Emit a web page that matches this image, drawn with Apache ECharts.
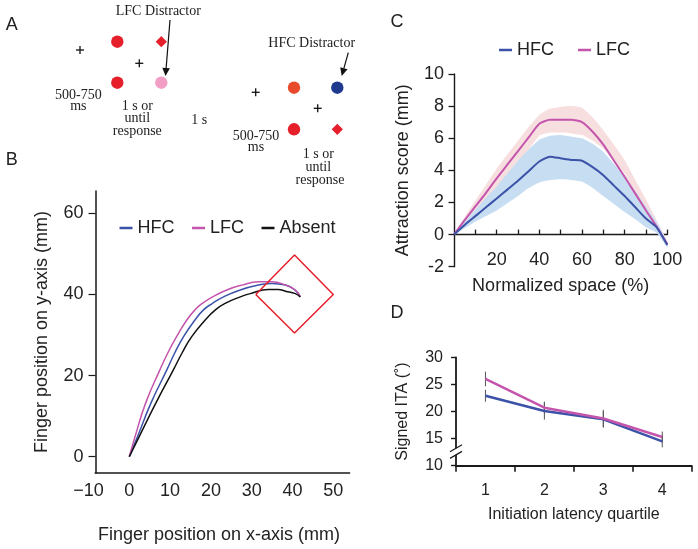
<!DOCTYPE html>
<html><head><meta charset="utf-8">
<script src="https://cdn.jsdelivr.net/npm/echarts@6/dist/echarts.min.js"></script>
<style>html,body{margin:0;padding:0;background:#fff}#c{width:698px;height:549px}</style>
</head><body><div id="c"></div>
<script>
// ---------- Panel B: finger trajectories ----------
const trajLfcX = [0, 1.4, 4.0, 7.5, 9.4, 11.6, 14.1, 16.1, 17.9, 20.4, 23.9, 27.6, 31.7, 35, 38.3, 40.7, 41.9];
const trajLfcY = [0, 4.9, 13.2, 21.4, 25.5, 29.6, 33.7, 36.2, 37.8, 39.4, 41.1, 42.3, 43.1, 43.1, 42.3, 41.1, 39.4];
const trajHfcX = [0, 2.0, 5.3, 9.2, 11.1, 13.3, 16.1, 18.2, 20.4, 23.1, 27.2, 31.7, 35, 38.3, 40.7, 41.9];
const trajHfcY = [0, 4.9, 13.2, 21.4, 25.5, 29.6, 33.7, 36.2, 37.8, 39.4, 41.1, 42.3, 42.7, 42.3, 41.0, 39.4];
const trajAbsX = [0, 2.4, 6.5, 10.8, 12.9, 15.3, 18.6, 21.1, 23.5, 27.2, 30, 34, 36.5, 38.3, 40.7, 41.9];
const trajAbsY = [0, 4.9, 13.2, 21.4, 25.5, 29.6, 33.7, 36.2, 37.8, 39.4, 40.3, 41.2, 41.2, 40.8, 40.2, 39.4];
const targetX = [31, 40.5, 50, 40.5, 31];
const targetY = [40, 49.7, 40, 30.5, 40];
const bXLabels = [-10, 0, 10, 20, 30, 40, 50];
const bYLabels = [0, 20, 40, 60];

// ---------- Panel C: attraction score ----------
const spaceX   = [0, 5, 10, 15, 20, 25, 30, 35, 40, 45, 50, 55, 60, 65, 70, 75, 80, 85, 90, 95, 100];
const lfcMean  = [0, 0.9, 1.75, 2.6, 3.5, 4.35, 5.2, 6.05, 6.9, 7.15, 7.15, 7.15, 7.0, 6.4, 5.6, 4.6, 3.6, 2.55, 1.5, 0.5, -0.6];
const lfcUpper = [0, 1.1, 2.1, 3.1, 4.1, 5.0, 5.85, 6.7, 7.45, 7.85, 7.95, 8.0, 7.9, 7.3, 6.5, 5.6, 4.65, 3.4, 2.2, 0.9, -0.4];
const lfcLower = [0, 0.7, 1.4, 2.1, 2.9, 3.7, 4.55, 5.3, 6.15, 6.35, 6.35, 6.3, 6.2, 5.85, 5.35, 4.6, 3.8, 2.5, 1.1, 0.2, -0.8];
const hfcMean  = [0, 0.6, 1.15, 1.7, 2.25, 2.8, 3.35, 3.95, 4.55, 4.85, 4.75, 4.65, 4.6, 4.2, 3.7, 3.05, 2.4, 1.7, 1.0, 0.45, -0.65];
const hfcUpper = [0, 0.8, 1.55, 2.3, 3.0, 3.8, 4.6, 5.3, 5.9, 6.15, 6.2, 6.1, 6.0, 5.65, 5.15, 4.4, 3.6, 2.7, 1.75, 0.8, -0.5];
const hfcLower = [0, 0.4, 0.8, 1.15, 1.5, 1.95, 2.4, 2.9, 3.25, 3.4, 3.45, 3.4, 3.3, 2.9, 2.4, 1.9, 1.4, 0.95, 0.45, 0.1, -0.8];
const cXLabels = [20, 40, 60, 80, 100];
const cXTicks  = [10, 20, 30, 40, 50, 60, 70, 80, 90, 100];

// ---------- Panel D: signed ITA ----------
const quartiles = ['1', '2', '3', '4'];
const itaLfc    = [26.0, 20.7, 18.7, 15.3];
const itaLfcErr = [1.35, 1.1, 1.6, 1.0];
const itaHfc    = [22.9, 20.1, 18.55, 14.5];
const itaHfcErr = [1.1, 1.6, 1.5, 1.1];

const BLUE = '#3b52a8', MAG = '#c455ad';
const SANS = '"Liberation Sans", Arial, sans-serif';
const SERIF = '"Liberation Serif", "DejaVu Serif", serif';
const INK = '#1a1a1a';

function zip(a, b) { return a.map((v, i) => [v, b[i]]); }

// ---------- Panel A diagram (graphic) ----------
function circ(id, cx, cy, color) { return {id, type: 'circle', shape: {cx, cy, r: 6.2}, style: {fill: color}}; }
function dia(id, cx, cy, color) { const s = 5.6; return {id, type: 'polygon', shape: {points: [[cx, cy - s], [cx + s, cy], [cx, cy + s], [cx - s, cy]]}, style: {fill: color}}; }
function plus(id, cx, cy) {
  return [
    {id: id + 'h', type: 'line', shape: {x1: cx - 4, y1: cy, x2: cx + 4, y2: cy}, style: {stroke: '#111', lineWidth: 1.3}},
    {id: id + 'v', type: 'line', shape: {x1: cx, y1: cy - 4, x2: cx, y2: cy + 4}, style: {stroke: '#111', lineWidth: 1.3}}
  ];
}
function stxt(id, x, y, s) {
  return {id, type: 'text', x, y, style: {text: s, font: '14px ' + SERIF, fill: '#222', align: 'center', verticalAlign: 'middle', textAlign: 'center', textVerticalAlign: 'middle'}};
}
function letter(id, x, y, s) {
  return {id, type: 'text', x, y, style: {text: s, font: '18px ' + SANS, fill: '#222', align: 'center', verticalAlign: 'middle', textAlign: 'center', textVerticalAlign: 'middle'}};
}
function arrow(id, x1, y1, x2, y2) {
  const dx = x2 - x1, dy = y2 - y1, L = Math.hypot(dx, dy), ux = dx / L, uy = dy / L;
  const bx = x2 - ux * 8, by = y2 - uy * 8, px = -uy * 3.8, py = ux * 3.8;
  return [
    {id: id + 'l', type: 'line', shape: {x1, y1, x2: bx, y2: by}, style: {stroke: '#111', lineWidth: 1.2}},
    {id: id + 'h', type: 'polygon', shape: {points: [[x2, y2], [bx + px, by + py], [bx - px, by - py]]}, style: {fill: '#111'}}
  ];
}
const RED = '#e5202b';
const graphicA = [].concat(
  [letter('lA', 11.7, 25, 'A'), letter('lB', 11.7, 160, 'B'), letter('lC', 397, 22, 'C'), letter('lD', 397, 313, 'D')],
  plus('p1', 80, 50), plus('p2', 139.3, 63.3), plus('p3', 255.7, 92.3), plus('p4', 317.7, 108.3),
  [circ('c1', 117.3, 41.7, RED), circ('c2', 117.3, 82.7, RED), circ('c3', 161.3, 82.7, '#f29dc3'),
   dia('d1', 161.3, 41.7, RED),
   circ('c4', 294, 87.7, '#ea4a2c'), circ('c5', 337.3, 87.7, '#1d3a8e'), circ('c6', 294, 129.3, RED),
   dia('d2', 337.3, 129.3, RED)],
  arrow('a1', 170, 20, 165.5, 76), arrow('a2', 348.3, 52.7, 341.7, 76),
  [stxt('t1', 158.3, 11, 'LFC Distractor'), stxt('t2', 311.7, 43.3, 'HFC Distractor'),
   stxt('t3', 78.3, 95, '500-750'), stxt('t4', 78.3, 106.5, 'ms'),
   stxt('t5', 137.3, 106, '1 s or'), stxt('t6', 137.3, 118.5, 'until'), stxt('t7', 137.3, 131.5, 'response'),
   stxt('t8', 199.3, 120.7, '1 s'),
   stxt('t9', 256, 136.7, '500-750'), stxt('t10', 256, 147.5, 'ms'),
   stxt('t11', 318.3, 154, '1 s or'), stxt('t12', 318.3, 167, 'until'), stxt('t13', 320, 180.5, 'response')]
);

function bandSeries(name, upper, lower, color) {
  return {
    name, type: 'custom', xAxisIndex: 1, yAxisIndex: 1, silent: true, data: [[0, 0]],
    renderItem: function (params, api) {
      const pts = [];
      for (let i = 0; i < spaceX.length; i++) pts.push(api.coord([spaceX[i], upper[i]]));
      for (let i = spaceX.length - 1; i >= 0; i--) pts.push(api.coord([spaceX[i], lower[i]]));
      return {type: 'polygon', shape: {points: pts, smooth: 0.15}, style: {fill: color}};
    }
  };
}
function errSeries(name, mean, err) {
  return {
    name, type: 'custom', xAxisIndex: 2, yAxisIndex: 2, silent: true,
    data: mean.map((m, i) => [i, m - err[i], m + err[i]]),
    renderItem: function (params, api) {
      const a = api.coord([api.value(0), api.value(1)]);
      const b = api.coord([api.value(0), api.value(2)]);
      return {type: 'line', shape: {x1: a[0], y1: a[1], x2: b[0], y2: b[1]}, style: {stroke: '#555', lineWidth: 1}};
    }
  };
}

const lab = (size, margin) => ({color: '#222', fontSize: size, fontFamily: SANS, margin});
const nameStyle = size => ({color: '#222', fontSize: size, fontFamily: SANS});

const chart = echarts.init(document.getElementById('c'), null, {renderer: 'canvas'});
chart.setOption({
  animation: false,
  backgroundColor: '#fff',
  graphic: graphicA,
  grid: [
    {left: 88.5, top: 191, width: 261.1, height: 281.9, outerBoundsMode: 'none', containLabel: false},
    {left: 454, top: 74, width: 213.3, height: 192.7, outerBoundsMode: 'none', containLabel: false},
    {left: 456, top: 357.3, width: 235.7, height: 108.4, outerBoundsMode: 'none', containLabel: false}
  ],
  legend: [
    {data: ['HFC', 'LFC', 'Absent'], left: 119.5, top: 219, padding: 0, icon: 'rect', itemWidth: 13, itemHeight: 2.5, itemGap: 17.5,
     textStyle: {fontSize: 18, fontFamily: SANS, color: '#222'}, selectedMode: false},
    {data: ['HFC', 'LFC'], left: 499, top: 41, padding: 0, icon: 'rect', itemWidth: 13, itemHeight: 2.5, itemGap: 24,
     textStyle: {fontSize: 18, fontFamily: SANS, color: '#222'}, selectedMode: false}
  ],
  xAxis: [
    {gridIndex: 0, type: 'value', min: -10, max: 54,
     axisLine: {show: true, onZero: false, lineStyle: {color: INK, width: 1.5}},
     axisTick: {show: false}, splitLine: {show: false},
     axisLabel: Object.assign(lab(18, 9), {customValues: bXLabels, formatter: v => v < 0 ? '\u2212' + (-v) : String(v)}),
     name: 'Finger position on x-axis (mm)', nameLocation: 'middle', nameGap: 53, nameTextStyle: nameStyle(18)},
    {gridIndex: 1, type: 'value', min: 0, max: 100,
     axisLine: {show: true, onZero: true, lineStyle: {color: INK, width: 1.4}},
     axisTick: {show: true, inside: true, length: 5, customValues: cXTicks, lineStyle: {color: INK, width: 1.3}},
     splitLine: {show: false},
     axisLabel: Object.assign(lab(18, -16), {customValues: cXLabels}),
     name: 'Normalized space (%)', nameLocation: 'middle', nameGap: 10, nameTextStyle: nameStyle(18)},
    {gridIndex: 2, type: 'category', data: quartiles, boundaryGap: true,
     axisLine: {show: true, lineStyle: {color: INK, width: 1.8}},
     axisTick: {show: true, length: 6, alignWithLabel: false, lineStyle: {color: INK, width: 1.6}},
     axisLabel: lab(16, 17),
     name: 'Initiation latency quartile', nameLocation: 'middle', nameGap: 41, nameTextStyle: nameStyle(16)}
  ],
  yAxis: [
    {gridIndex: 0, type: 'value', min: -4, max: 65.5, offset: -7,
     axisLine: {show: true, onZero: false, lineStyle: {color: INK, width: 1.5}},
     axisTick: {show: true, length: 7, customValues: bYLabels, lineStyle: {color: INK, width: 1.2}},
     splitLine: {show: false},
     axisLabel: Object.assign(lab(18, 12), {customValues: bYLabels}),
     name: 'Finger position on y-axis (mm)', nameLocation: 'middle', nameGap: 44, nameRotate: 90, nameTextStyle: nameStyle(18)},
    {gridIndex: 1, type: 'value', min: -2, max: 10, interval: 2,
     axisLine: {show: true, onZero: false, lineStyle: {color: INK, width: 1.4}},
     axisTick: {show: true, length: 5.5, lineStyle: {color: INK, width: 1.3}},
     splitLine: {show: false},
     axisLabel: lab(18, 10),
     name: 'Attraction score (mm)', nameLocation: 'middle', nameGap: 42, nameRotate: 90, nameTextStyle: nameStyle(18)},
    {gridIndex: 2, type: 'value', min: 10, max: 30, interval: 5,
     axisLine: {show: true, onZero: false, lineStyle: {color: INK, width: 1.8}},
     axisTick: {show: true, length: 5, lineStyle: {color: INK, width: 1.4}},
     splitLine: {show: false},
     axisLabel: lab(16, 13),
     name: 'Signed ITA (\u02DA)', nameLocation: 'middle', nameGap: 45, nameRotate: 90, nameTextStyle: nameStyle(16)}
  ],
  series: [
    // Panel B
    {name: 'HFC', type: 'line', xAxisIndex: 0, yAxisIndex: 0, data: zip(trajHfcX, trajHfcY), showSymbol: false, smooth: 0.5,
     color: BLUE, lineStyle: {color: BLUE, width: 1.5}},
    {name: 'LFC', type: 'line', xAxisIndex: 0, yAxisIndex: 0, data: zip(trajLfcX, trajLfcY), showSymbol: false, smooth: 0.5,
     color: MAG, lineStyle: {color: MAG, width: 1.5}},
    {name: 'Absent', type: 'line', xAxisIndex: 0, yAxisIndex: 0, data: zip(trajAbsX, trajAbsY), showSymbol: false, smooth: 0.5,
     color: '#111', lineStyle: {color: '#111', width: 1.5}},
    {name: 'target', type: 'line', xAxisIndex: 0, yAxisIndex: 0, data: zip(targetX, targetY), showSymbol: false, smooth: false,
     color: RED, lineStyle: {color: RED, width: 1.5}, z: 5},
    // Panel C
    bandSeries('lfcBand', lfcUpper, lfcLower, '#f7dfdf'),
    bandSeries('hfcBand', hfcUpper, hfcLower, '#c7ddf2'),
    {name: 'LFC', type: 'line', xAxisIndex: 1, yAxisIndex: 1, data: zip(spaceX, lfcMean), showSymbol: false, smooth: 0.2,
     color: MAG, lineStyle: {color: MAG, width: 2}, z: 4},
    {name: 'HFC', type: 'line', xAxisIndex: 1, yAxisIndex: 1, data: zip(spaceX, hfcMean), showSymbol: false, smooth: 0.2,
     color: BLUE, lineStyle: {color: BLUE, width: 2}, z: 4},
    // Panel D
    {name: 'HFC', type: 'line', xAxisIndex: 2, yAxisIndex: 2, data: itaHfc, showSymbol: false,
     color: BLUE, lineStyle: {color: BLUE, width: 2.5}, z: 3},
    {name: 'LFC', type: 'line', xAxisIndex: 2, yAxisIndex: 2, data: itaLfc, showSymbol: false,
     color: MAG, lineStyle: {color: MAG, width: 2.5}, z: 4},
    errSeries('lfcErr', itaLfc, itaLfcErr),
    errSeries('hfcErr', itaHfc, itaHfcErr)
  ]
});

(function () {
  // hide the short stub of panel B's x axis left of its (offset) y axis
  const rB = chart.getModel().getComponent('grid', 0).coordinateSystem.getRect();
  const yLineX = rB.x + 7;
  const xLineY = rB.y + rB.height;
  // axis break marks on panel D's y axis
  const rect = chart.getModel().getComponent('grid', 2).coordinateSystem.getRect();
  const ax = rect.x;
  const y1 = chart.convertToPixel({yAxisIndex: 2}, 13.2);
  const y2 = chart.convertToPixel({yAxisIndex: 2}, 12.0);
  chart.setOption({graphic: [
    {id: 'stubB', type: 'rect', shape: {x: rB.x - 2, y: xLineY - 2, width: yLineX - rB.x + 1.2, height: 4}, style: {fill: '#fff'}, z: 100},
    {id: 'brkGap', type: 'rect', shape: {x: ax - 3, y: y1, width: 6, height: y2 - y1}, style: {fill: '#fff'}, z: 100},
    {id: 'brk1', type: 'line', shape: {x1: ax - 6, y1: y1 + 3.5, x2: ax + 6, y2: y1 - 3.5}, style: {stroke: INK, lineWidth: 1.2}, z: 101},
    {id: 'brk2', type: 'line', shape: {x1: ax - 6, y1: y2 + 3.5, x2: ax + 6, y2: y2 - 3.5}, style: {stroke: INK, lineWidth: 1.2}, z: 101}
  ]});
})();
</script>
</body></html>
